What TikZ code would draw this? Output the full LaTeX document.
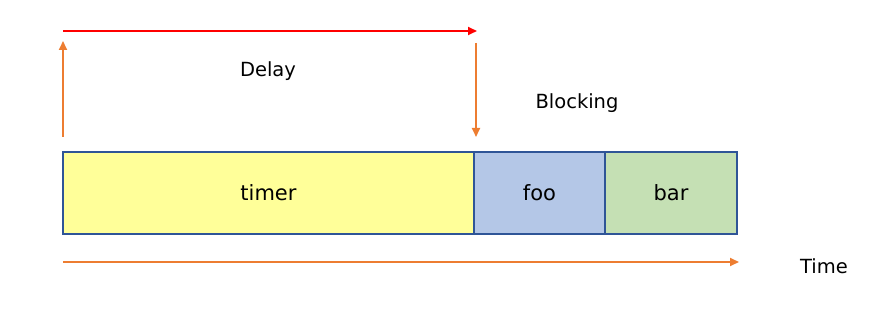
\documentclass[tikz,border=0pt]{standalone}
\usepackage{fontspec}
\setmainfont{DejaVu Sans}
\usetikzlibrary{arrows.meta}
\definecolor{boxline}{HTML}{2F5597}
\definecolor{ylw}{HTML}{FFFF99}
\definecolor{blu}{HTML}{B4C7E7}
\definecolor{grn}{HTML}{C5E0B4}
\definecolor{org}{HTML}{ED7D31}
\tikzset{
  seg/.style={draw=boxline, line width=2pt, minimum height=82pt, inner sep=0pt, font=\fontsize{21}{24}\selectfont},
  lbl/.style={font=\fontsize{19.5}{23}\selectfont, inner sep=0pt},
  arr/.style={line width=2pt, -{Triangle[length=9pt,width=8pt]}},
}
\begin{document}
\begin{tikzpicture}[x=1pt,y=-1pt]
\useasboundingbox (0,0) rectangle (873,320);
\node[seg, fill=ylw, minimum width=411pt] (timer) at (268.5,193) {timer};
\node[seg, fill=blu, minimum width=131pt] (foo) at (539.5,193) {foo};
\node[seg, fill=grn, minimum width=132pt] (bar) at (671,193) {bar};
\coordinate (rs) at (63,31);
\coordinate (re) at (477,31);
\coordinate (us) at (63,137);
\coordinate (ue) at (63,41);
\coordinate (ds) at (476,43);
\coordinate (de) at (476,137);
\coordinate (ts) at (63,262);
\coordinate (te) at (739,262);
\draw[arr, red] (rs) -- (re);
\draw[arr, org] (us) -- (ue);
\draw[arr, org] (ds) -- (de);
\draw[arr, org] (ts) -- (te);
\node[lbl] (delay) at (268,71) {Delay};
\node[lbl] (blocking) at (577,103) {Blocking};
\node[lbl] (time) at (824,266) {Time};
\end{tikzpicture}
\end{document}
